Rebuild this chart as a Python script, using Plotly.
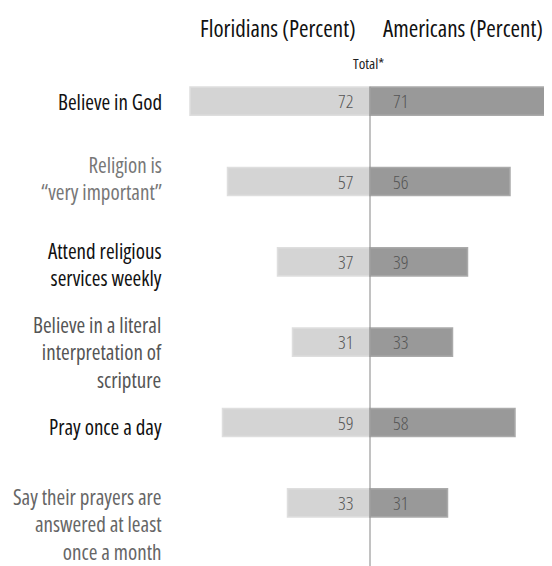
import plotly.graph_objects as go

categories = [
    "Believe in God",
    "Religion is<br>“very important”",
    "Attend religious<br>services weekly",
    "Believe in a literal<br>interpretation of<br>scripture",
    "Pray once a day",
    "Say their prayers are<br>answered at least<br>once a month",
]
floridians = [72, 57, 37, 31, 59, 33]
americans = [71, 56, 39, 33, 58, 31]

label_colors = ["#111111", "#777777", "#111111", "#555555", "#111111", "#666666"]
label_yshift = [-1, 3, -3, -10, -4, -22]

FONT = "Open Sans, sans-serif"


def cond(s):
    return "<br>".join("<span style='font-stretch:condensed'>%s</span>" % p for p in s.split("<br>"))


fig = go.Figure()
fig.add_trace(go.Bar(
    y=categories, x=[-v for v in floridians], orientation="h", base=0,
    marker=dict(color="#d4d4d4", line=dict(color="#dedede", width=1.5)),
    width=0.35, showlegend=False, hoverinfo="skip",
))
fig.add_trace(go.Bar(
    y=categories, x=americans, orientation="h",
    marker=dict(color="#999999", line=dict(color="#aaaaaa", width=1.5)),
    width=0.35, showlegend=False, hoverinfo="skip",
))

annotations = []
for i, cat in enumerate(categories):
    annotations.append(dict(x=0, y=cat, xref="x", yref="y", text=cond(str(floridians[i])),
                            xanchor="right", xshift=-15, showarrow=False,
                            font=dict(family=FONT, size=19, color="#555555", weight=300)))
    annotations.append(dict(x=0, y=cat, xref="x", yref="y", text=cond(str(americans[i])),
                            xanchor="left", xshift=21, showarrow=False,
                            font=dict(family=FONT, size=19, color="#555555", weight=300)))
    annotations.append(dict(x=0, y=cat, xref="paper", yref="y", text=cond(cat),
                            xanchor="right", align="right", xshift=-16, yshift=label_yshift[i],
                            showarrow=False,
                            font=dict(family=FONT, size=21, color=label_colors[i])))

annotations.append(dict(x=-37, y=1, xref="x", yref="paper", text=cond("Floridians (Percent)"),
                        xanchor="center", yanchor="bottom", yshift=15, showarrow=False,
                        font=dict(family=FONT, size=23, color="#111111")))
annotations.append(dict(x=37, y=1, xref="x", yref="paper", text=cond("Americans (Percent)"),
                        xanchor="center", yanchor="bottom", yshift=15, showarrow=False,
                        font=dict(family=FONT, size=23, color="#111111")))
annotations.append(dict(x=-0.5, y=1, xref="x", yref="paper", text=cond("Total*"),
                        xanchor="center", yanchor="bottom", yshift=-14, showarrow=False,
                        font=dict(family=FONT, size=15, color="#222222")))

fig.update_layout(
    width=544, height=558,
    margin=dict(l=172, r=0, t=53, b=23),
    paper_bgcolor="white", plot_bgcolor="white",
    barmode="overlay",
    xaxis=dict(range=[-76, 72.8], visible=False, fixedrange=True),
    yaxis=dict(categoryorder="array", categoryarray=categories, autorange=False,
               visible=False, range=[5.5, -0.5]),
    annotations=annotations,
    shapes=[dict(type="line", xref="x", yref="paper", x0=0, x1=0, y0=-0.05, y1=0.946,
                 line=dict(color="#999999", width=1.2), layer="above")],
)

fig.write_html("out.html")
